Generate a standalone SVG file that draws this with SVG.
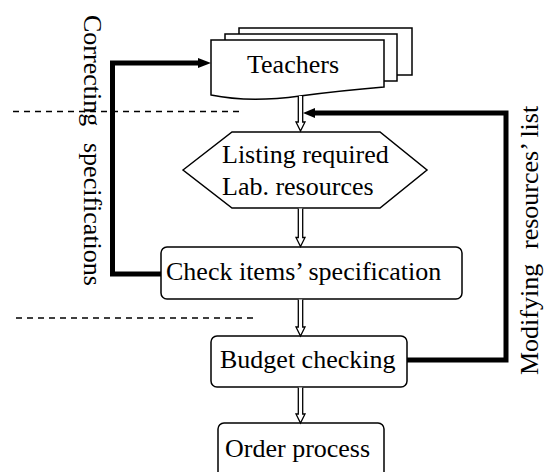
<svg xmlns="http://www.w3.org/2000/svg" width="545" height="472" viewBox="0 0 545 472">
<style>
.t{font-family:"Liberation Serif","Times New Roman",serif;font-size:26px;fill:#000}
.n{fill:#fff;stroke:#000;stroke-width:1.5}
.da{fill:#fff;stroke:#000;stroke-width:1.3;stroke-linejoin:miter}
.fb{fill:none;stroke:#000;stroke-width:5;stroke-linejoin:miter}
.dash{stroke:#000;stroke-width:1.5;stroke-dasharray:6,5;fill:none}
</style>
<rect width="545" height="472" fill="#fff"/>
<g id="dividers">
<line class="dash" x1="13" y1="111.5" x2="244" y2="111.5"/>
<line class="dash" x1="16" y1="318" x2="256" y2="318"/>
</g>
<g id="teachers">
<rect class="n" x="239" y="28" width="173" height="47"/>
<rect class="n" x="225" y="34" width="172" height="47"/>
<path class="n" d="M211,40 H384 V87 C360,89 330,92 300,96 C270,100 240,101 211,95 Z"/>
<text class="t" x="247" y="73">Teachers</text>
</g>
<g id="listing">
<polygon class="n" points="183,170 232,132 380,132 427,170 380,208 232,208"/>
<text class="t" x="222" y="163">Listing required</text>
<text class="t" x="222" y="195">Lab. resources</text>
</g>
<g id="check">
<rect class="n" x="161" y="247" width="301" height="52" rx="6"/>
<text class="t" x="166" y="280">Check items’ specification</text>
</g>
<g id="budget">
<rect class="n" x="211" y="336" width="196" height="51" rx="6"/>
<text class="t" x="220" y="368">Budget checking</text>
</g>
<g id="order">
<rect class="n" x="218" y="423" width="166" height="60" rx="6"/>
<text class="t" x="225" y="457">Order process</text>
</g>
<g id="connectors">
<path class="da" d="M298.3,96 V122 H296 L300.5,131 L305,122 H302.7 V96"/>
<path class="da" d="M298.3,208.5 V237.5 H296 L300.5,246.5 L305,237.5 H302.7 V208.5"/>
<path class="da" d="M298.3,299.5 V327 H296 L300.5,336 L305,327 H302.7 V299.5"/>
<path class="da" d="M298.3,387.5 V414 H296 L300.5,423 L305,414 H302.7 V387.5"/>
<path class="fb" d="M161,274 H112.5 V63 H200"/>
<polygon points="211,63 198,58 198,68" fill="#000"/>
<path class="fb" d="M407,360 H506 V113 H313"/>
<polygon points="303,113 315,108 315,118" fill="#000"/>
</g>
<g id="labels">
<text class="t" transform="translate(84,15) rotate(90)"><tspan x="0" y="0">Correcting</tspan><tspan x="128" y="0">specifications</tspan></text>
<text class="t" transform="translate(538,375) rotate(-90)"><tspan x="0" y="0">Modifying</tspan><tspan x="126" y="0">resources’ list</tspan></text>
</g>
</svg>
